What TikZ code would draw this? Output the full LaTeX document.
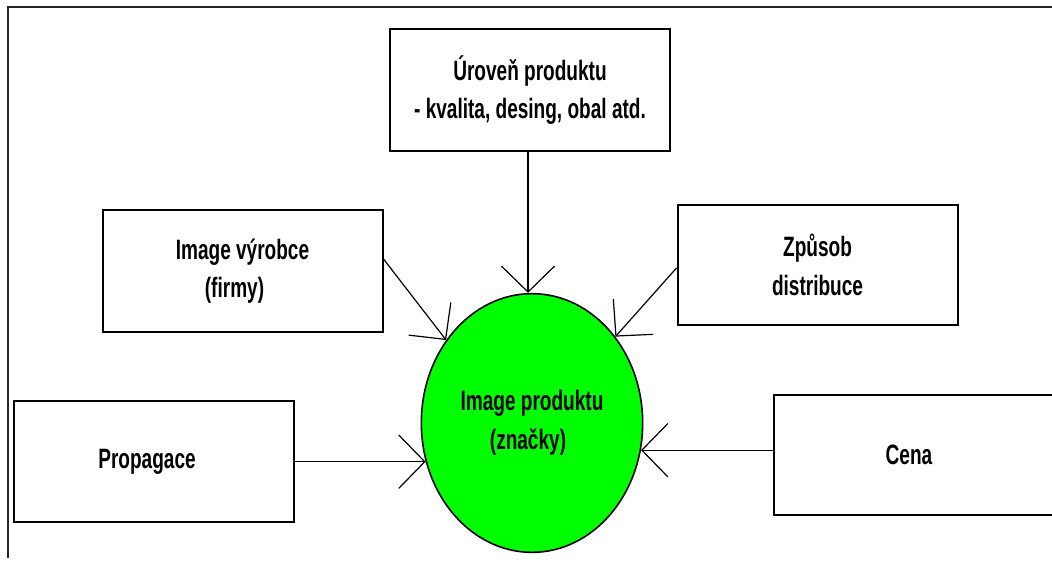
\documentclass[tikz,border=0pt]{standalone}
\usepackage{fontspec}
\setmainfont{Liberation Sans}[FakeStretch=0.68]
\usetikzlibrary{arrows.meta,shapes.geometric,calc}
\begin{document}
\begin{tikzpicture}[x=0.75pt,y=-0.75pt,
  lbl/.style={font=\fontsize{21}{29}\selectfont\bfseries, align=center, text=black},
  box/.style={draw=black, line width=1.5pt, minimum width=210pt, minimum height=91pt, inner sep=0pt, lbl},
  hub/.style={ellipse, draw=black, line width=1.2pt, fill=brightgreen, minimum width=166pt, minimum height=194pt, inner sep=0pt, lbl},
  link/.style={line width=0.9pt, -{Straight Barb[length=19.5pt,width=40pt,line width=0.9pt]}}]
\definecolor{brightgreen}{RGB}{0,255,0}
\clip (0,0) rectangle (1052,567);
\fill[white] (0,0) rectangle (1052,567);
% outer frame
\draw[line width=1.5pt, black!85] (8,558) -- (8,7) -- (1060,7);

% boxes
\node[box] (top) at (530,90) {Úroveň produktu\\- kvalita, desing, obal atd.};
\node[box] (vyr) at (242.5,271) {Image výrobce\\\hspace*{-12pt}(firmy)};
\node[box, minimum height=90pt] (zp) at (817.5,265) {Způsob\\distribuce};
\node[box] (prop) at (154,461.5) {\hspace*{-10.5pt}Propagace};
\node[box, minimum width=225pt, minimum height=90pt] (cena) at (924,455) {\hspace*{-22.5pt}Cena};

% centre
\node[hub] (circ) at (532,423) {Image produktu\\\hspace*{-6pt}(značky)};

% connectors
\draw[link] (top.south -| circ.north) ++(-4,0) coordinate (ts) -- (ts |- circ.north);
\draw[link] ($(vyr.east)+(0,-12)$) -- (circ.136.7);
\draw[link] ($(zp.west)+(0,3)$) -- (circ.46.7);
\draw[link] (circ.200.2 -| prop.east) -- (circ.200.2);
\draw[link] (circ.-14 -| cena.west) -- (circ.-14);
\end{tikzpicture}
\end{document}
